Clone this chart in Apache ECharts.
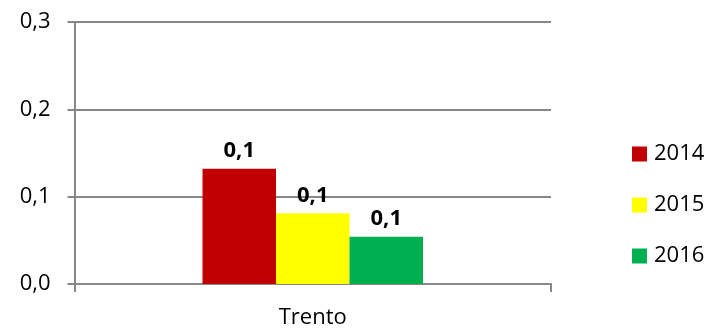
<!DOCTYPE html>
<html>
<head>
<meta charset="utf-8">
<script src="https://cdn.jsdelivr.net/npm/echarts@6/dist/echarts.min.js"></script>
<style>html,body{margin:0;padding:0;background:#fff}#c{width:709px;height:330px}</style>
</head>
<body>
<div id="c"></div>
<script>
var categories = ['Trento'];
var seriesNames = ['2014', '2015', '2016'];
var values2014 = [0.132];
var values2015 = [0.081];
var values2016 = [0.054];
var colors = ['#C00000', '#FFFF00', '#00B050'];
var yTicks = [0, 0.1, 0.2, 0.3];

var fontFam = '"Open Sans", Lato, sans-serif';
function fmt(v){ return v.toFixed(1).replace('.', ','); }
var allValues = [values2014, values2015, values2016];
var chart = echarts.init(document.getElementById('c'));
chart.setOption({
  animation: false,
  backgroundColor: '#fff',
  grid: { left: 74.5, right: 158, top: 22, bottom: 46, containLabel: false },
  legend: {
    orient: 'vertical', left: 632, top: 143, padding: 0,
    itemWidth: 15, itemHeight: 15, itemGap: 29,
    icon: 'rect',
    textStyle: { fontFamily: fontFam, fontSize: 22, color: '#000', lineHeight: 22, padding: [0,0,0,2] },
    data: seriesNames
  },
  xAxis: {
    type: 'category', data: categories,
    axisLine: { lineStyle: { color: '#878787', width: 2 } },
    axisTick: { show: true, length: 8, alignWithLabel: false, lineStyle: { color: '#878787', width: 2 } },
    axisLabel: { fontFamily: fontFam, fontSize: 22, color: '#000', margin: 23 }
  },
  yAxis: {
    type: 'value', min: yTicks[0], max: yTicks[yTicks.length-1], interval: 0.1,
    axisLine: { show: true, lineStyle: { color: '#878787', width: 2 } },
    axisTick: { show: true, length: 7, lineStyle: { color: '#878787', width: 2 } },
    splitLine: { lineStyle: { color: '#878787', width: 2 } },
    axisLabel: { fontFamily: fontFam, fontSize: 22, color: '#000', margin: 24, formatter: fmt }
  },
  series: seriesNames.map(function(n, i){
    return {
      name: n, type: 'bar', data: allValues[i], barWidth: 73.5, barGap: '0%',
      itemStyle: { color: colors[i] },
      label: { show: true, position: 'top', distance: 7, fontFamily: fontFam, fontSize: 22, fontWeight: 'bold', color: '#000',
        formatter: function(p){ return fmt(p.value); } }
    };
  })
});
</script>
</body>
</html>
